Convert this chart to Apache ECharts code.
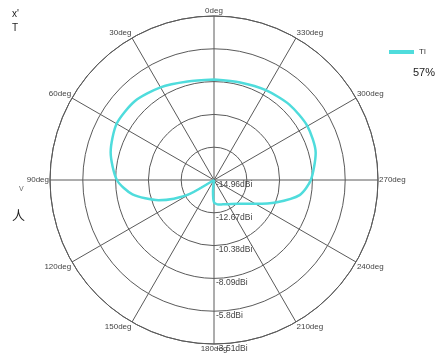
<!DOCTYPE html>
<html>
<head>
<meta charset="utf-8">
<script src="https://cdn.jsdelivr.net/npm/echarts@6/dist/echarts.min.js"></script>
<style>
  html, body { margin: 0; padding: 0; background: #fff; }
  #chart { width: 448px; height: 353px; }
</style>
</head>
<body>
<div id="chart"></div>
<script>
// pattern data: angle in deg, gain in dBi
const angles = [0, 15, 30, 45, 60, 75, 90, 100, 110, 115, 120, 130, 175, 180, 190, 200, 210, 225, 240, 250, 260, 270, 285, 300, 315, 330, 345, 360];
const gains = [-7.95, -7.84, -7.49, -7.16, -7.11, -7.49, -8.18, -9.18, -10.84, -11.87, -13.01, -14.96, -14.16, -13.41, -13.22, -13.15, -13.01, -12.61, -11.64, -10.38, -8.89, -8.20, -7.61, -7.43, -7.52, -7.72, -7.91, -7.95];
const seriesName = 'Tl';
const rMin = -14.96, rMax = -3.51, rStep = 2.29;

const chart = echarts.init(document.getElementById('chart'));

const gridColor = '#5a5a5a';
const polarCenter = [214, 180];
const polarRadius = 164;

chart.setOption({
  backgroundColor: '#fff',
  animation: false,
  textStyle: { fontFamily: 'Liberation Sans, Arial, sans-serif' },
  legend: {
    left: 384, top: 43,
    icon: 'rect', itemWidth: 25, itemHeight: 4, itemGap: 4,
    textStyle: { fontSize: 8, color: '#333' },
    data: [seriesName]
  },
  polar: [
    { center: polarCenter, radius: polarRadius },
    { center: polarCenter, radius: polarRadius }
  ],
  angleAxis: [
    {
      polarIndex: 0, type: 'value', min: 0, max: 360, interval: 30,
      startAngle: 90, clockwise: false,
      axisLine: { lineStyle: { color: gridColor, width: 1 } },
      axisTick: { show: false },
      axisLabel: {
        fontSize: 8, color: '#444', margin: 1,
        formatter: v => v === 360 ? '' : v + 'deg'
      },
      splitLine: { show: true, lineStyle: { color: gridColor, width: 1 } }
    },
    {
      polarIndex: 1, type: 'value', min: 0, max: 360, interval: 30,
      startAngle: 270, clockwise: false, show: false
    }
  ],
  radiusAxis: [
    {
      polarIndex: 0, min: rMin, max: rMax, interval: rStep,
      axisLine: { show: false }, axisTick: { show: false },
      axisLabel: { show: false },
      splitLine: { show: true, lineStyle: { color: gridColor, width: 1 } }
    },
    {
      polarIndex: 1, min: rMin, max: rMax, interval: rStep,
      axisLine: { show: false }, axisTick: { show: false },
      splitLine: { show: false },
      axisLabel: {
        fontSize: 8.5, color: '#444', margin: 2,
        align: 'left', verticalAlign: 'top',
        formatter: v => (+v.toFixed(2)) + 'dBi'
      }
    }
  ],
  series: [{
    name: seriesName,
    type: 'line',
    coordinateSystem: 'polar',
    polarIndex: 0,
    showSymbol: false,
    smooth: 0.25,
    lineStyle: { color: '#4fdcdc', width: 2.5 },
    itemStyle: { color: '#4fdcdc' },
    data: angles.map((a, i) => [gains[i], a])
  }],
  graphic: [
    { type: 'text', left: 12, top: 9, style: { text: "x'", fontSize: 10, fill: '#222' } },
    { type: 'text', left: 12, top: 23, style: { text: 'T', fontSize: 10, fill: '#222' } },
    { type: 'text', left: 413, top: 67, style: { text: '57%', fontSize: 11, fill: '#222' } },
    { type: 'text', left: 19, top: 186, style: { text: 'V', fontSize: 7, fill: '#666' } },
    { type: 'text', left: 12, top: 209, style: { text: '人', fontSize: 13, fill: '#222', fontFamily: 'Noto Sans CJK SC' } }
  ]
});
</script>
</body>
</html>
